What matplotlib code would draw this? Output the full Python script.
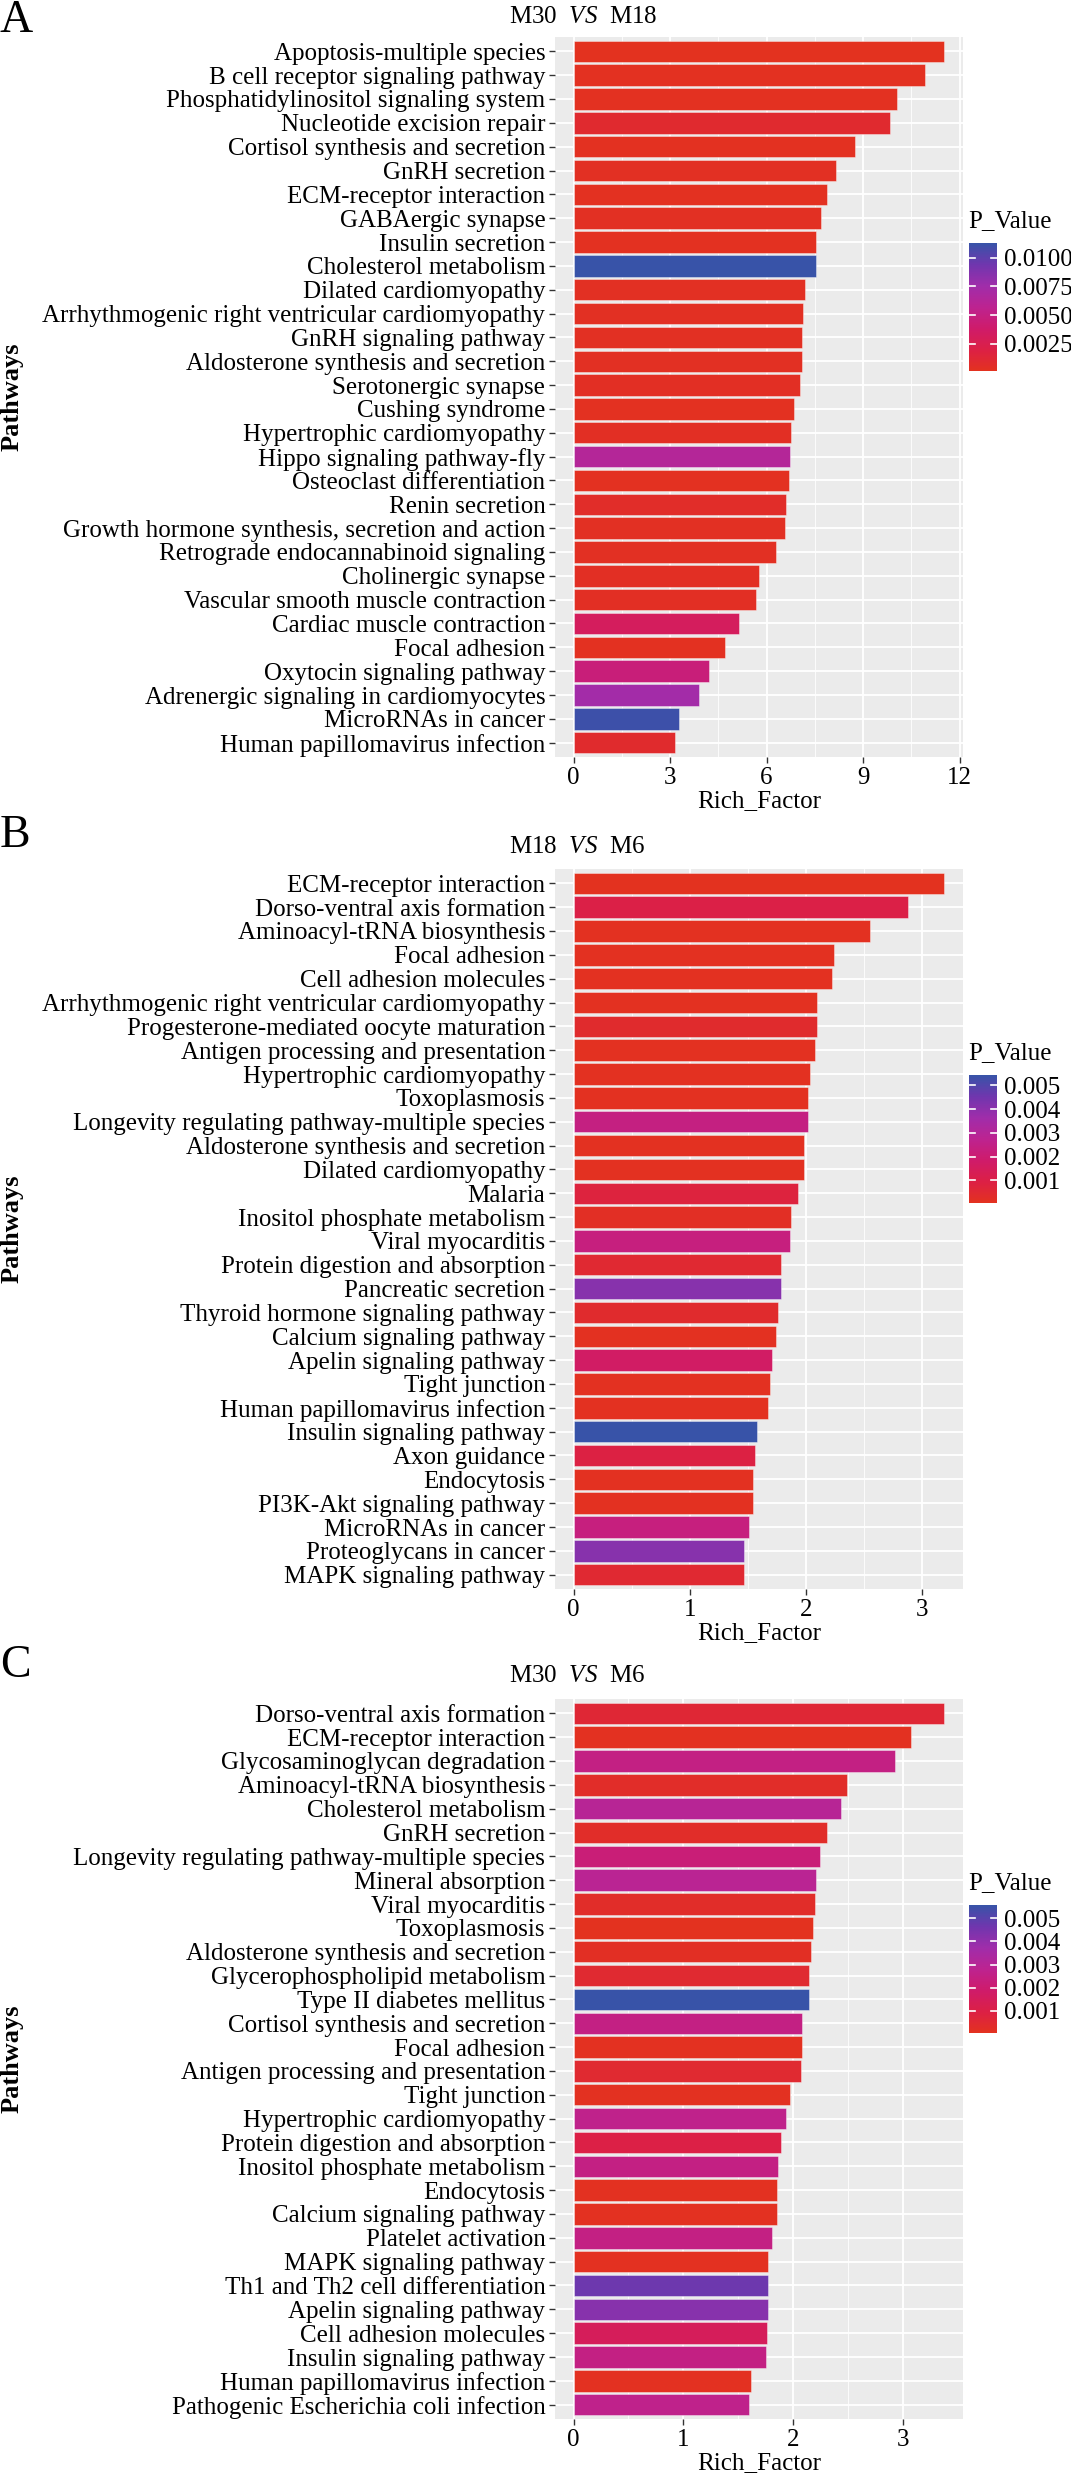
import matplotlib
import numpy as np

matplotlib.use("Agg")
import matplotlib.pyplot as plt
from matplotlib.cm import ScalarMappable
from matplotlib.colors import LinearSegmentedColormap, Normalize

plt.rcParams["font.family"] = ["Liberation Serif", "DejaVu Serif"]
plt.rcParams["mathtext.fontset"] = "custom"
plt.rcParams["mathtext.rm"] = "Liberation Serif"
plt.rcParams["mathtext.it"] = "Liberation Serif:italic"

# ---- Panel A: M30 VS M18 ----
pathways_a = [
    "Apoptosis-multiple species", "B cell receptor signaling pathway",
    "Phosphatidylinositol signaling system", "Nucleotide excision repair",
    "Cortisol synthesis and secretion", "GnRH secretion", "ECM-receptor interaction",
    "GABAergic synapse", "Insulin secretion", "Cholesterol metabolism",
    "Dilated cardiomyopathy", "Arrhythmogenic right ventricular cardiomyopathy",
    "GnRH signaling pathway", "Aldosterone synthesis and secretion",
    "Serotonergic synapse", "Cushing syndrome", "Hypertrophic cardiomyopathy",
    "Hippo signaling pathway-fly", "Osteoclast differentiation", "Renin secretion",
    "Growth hormone synthesis, secretion and action",
    "Retrograde endocannabinoid signaling", "Cholinergic synapse",
    "Vascular smooth muscle contraction", "Cardiac muscle contraction",
    "Focal adhesion", "Oxytocin signaling pathway",
    "Adrenergic signaling in cardiomyocytes", "MicroRNAs in cancer",
    "Human papillomavirus infection",
]
rich_a = [11.53, 10.93, 10.07, 9.84, 8.74, 8.15, 7.89, 7.70, 7.53, 7.53,
          7.18, 7.13, 7.09, 7.09, 7.03, 6.84, 6.75, 6.73, 6.69, 6.60,
          6.56, 6.29, 5.76, 5.67, 5.13, 4.70, 4.22, 3.90, 3.29, 3.16]
pvalue_a = [0.0001, 0.0002, 0.0002, 0.0009, 0.0002, 0.0003, 0.0002, 0.0003, 0.0002, 0.0113,
            0.0003, 0.0003, 0.0003, 0.0003, 0.0004, 0.0002, 0.0004, 0.0063, 0.0002, 0.0006,
            0.0003, 0.0003, 0.0004, 0.0004, 0.0032, 0.0002, 0.0046, 0.0074, 0.0111, 0.0008]

# ---- Panel B: M18 VS M6 ----
pathways_b = [
    "ECM-receptor interaction", "Dorso-ventral axis formation",
    "Aminoacyl-tRNA biosynthesis", "Focal adhesion", "Cell adhesion molecules",
    "Arrhythmogenic right ventricular cardiomyopathy",
    "Progesterone-mediated oocyte maturation", "Antigen processing and presentation",
    "Hypertrophic cardiomyopathy", "Toxoplasmosis",
    "Longevity regulating pathway-multiple species",
    "Aldosterone synthesis and secretion", "Dilated cardiomyopathy", "Malaria",
    "Inositol phosphate metabolism", "Viral myocarditis",
    "Protein digestion and absorption", "Pancreatic secretion",
    "Thyroid hormone signaling pathway", "Calcium signaling pathway",
    "Apelin signaling pathway", "Tight junction", "Human papillomavirus infection",
    "Insulin signaling pathway", "Axon guidance", "Endocytosis",
    "PI3K-Akt signaling pathway", "MicroRNAs in cancer", "Proteoglycans in cancer",
    "MAPK signaling pathway",
]
rich_b = [3.19, 2.88, 2.55, 2.24, 2.22, 2.09, 2.09, 2.08, 2.03, 2.02,
          2.02, 1.98, 1.98, 1.93, 1.87, 1.865, 1.78, 1.78, 1.76, 1.74,
          1.71, 1.69, 1.67, 1.58, 1.56, 1.54, 1.54, 1.51, 1.47, 1.47]
pvalue_b = [0.00005, 0.0010, 0.0001, 0.0001, 0.0001, 0.0001, 0.0004, 0.0001, 0.0001, 0.0001,
            0.0024, 0.0001, 0.0001, 0.0008, 0.0002, 0.0023, 0.0005, 0.0041, 0.0004, 0.0001,
            0.0017, 0.0001, 0.0001, 0.00543, 0.0009, 0.0001, 0.0001, 0.0023, 0.0041, 0.0005]

# ---- Panel C: M30 VS M6 ----
pathways_c = [
    "Dorso-ventral axis formation", "ECM-receptor interaction",
    "Glycosaminoglycan degradation", "Aminoacyl-tRNA biosynthesis",
    "Cholesterol metabolism", "GnRH secretion",
    "Longevity regulating pathway-multiple species", "Mineral absorption",
    "Viral myocarditis", "Toxoplasmosis", "Aldosterone synthesis and secretion",
    "Glycerophospholipid metabolism", "Type II diabetes mellitus",
    "Cortisol synthesis and secretion", "Focal adhesion",
    "Antigen processing and presentation", "Tight junction",
    "Hypertrophic cardiomyopathy", "Protein digestion and absorption",
    "Inositol phosphate metabolism", "Endocytosis", "Calcium signaling pathway",
    "Platelet activation", "MAPK signaling pathway",
    "Th1 and Th2 cell differentiation", "Apelin signaling pathway",
    "Cell adhesion molecules", "Insulin signaling pathway",
    "Human papillomavirus infection", "Pathogenic Escherichia coli infection",
]
rich_c = [3.38, 3.075, 2.93, 2.49, 2.44, 2.31, 2.25, 2.21, 2.20, 2.18,
          2.16, 2.15, 2.15, 2.08, 2.08, 2.07, 1.97, 1.94, 1.89, 1.86,
          1.855, 1.85, 1.81, 1.775, 1.77, 1.77, 1.76, 1.75, 1.62, 1.60]
pvalue_c = [0.0006, 0.0001, 0.0025, 0.0003, 0.0030, 0.0003, 0.0022, 0.0029, 0.0003, 0.00005,
            0.0002, 0.0005, 0.00557, 0.0025, 0.0001, 0.0005, 0.0001, 0.0027, 0.0010, 0.0025,
            0.0001, 0.0001, 0.0025, 0.0001, 0.0047, 0.0042, 0.0015, 0.0025, 0.0001, 0.0027]

xticks_a = [0, 3, 6, 9, 12]
xticks_bc = [0, 1, 2, 3]
cticks_a = [0.0025, 0.0050, 0.0075, 0.0100]
cticks_bc = [0.001, 0.002, 0.003, 0.004, 0.005]

W, H = 1071, 2480
FS = 18
CMAP = LinearSegmentedColormap.from_list(
    "pval", ["#E3321F", "#DC2045", "#CF1B6A", "#BD2390", "#A02DAA", "#7036AE", "#3853A8"])


def px_rect(left, top, right, bottom):
    return [left / W, 1 - bottom / H, (right - left) / W, (bottom - top) / H]


def draw_panel(fig, top, names, rich, pvals, xticks, cticks, cfmt, title, letter,
               letter_y, title_y):
    bottom = top + 720
    ax = fig.add_axes(px_rect(555, top, 963, bottom))
    n = len(names)
    y = np.arange(n)[::-1]
    norm = Normalize(min(pvals), max(pvals))
    ax.barh(y, rich, height=0.9, color=CMAP(norm(pvals)),
            edgecolor=(1, 1, 1, 0.45), linewidth=0.6, zorder=3)

    xmax = max(rich)
    ax.set_xlim(-0.05 * xmax, 1.05 * xmax)
    ax.set_ylim(-0.6, n - 0.4)
    ax.set_yticks(y)
    ax.set_yticklabels(names, fontsize=FS)
    ax.set_xticks(xticks)
    ax.set_xticklabels([str(t) for t in xticks], fontsize=FS)
    step = xticks[1] - xticks[0]
    ax.set_xticks([t + step / 2 for t in xticks[:-1]], minor=True)
    ax.tick_params(which="major", length=4, width=1, color="#333333", pad=3)
    ax.tick_params(which="minor", length=0)
    ax.set_facecolor("#EBEBEB")
    ax.grid(which="major", color="white", linewidth=1.3)
    ax.grid(which="minor", axis="x", color="white", linewidth=0.6)
    ax.set_axisbelow(True)
    for s in ax.spines.values():
        s.set_visible(False)
    ax.set_xlabel("Rich_Factor", fontsize=FS, labelpad=1)

    fig.text(0.0, 1 - letter_y / H, letter, fontsize=33, ha="left", va="center")
    fig.text(509 / W, 1 - title_y / H, title, fontsize=FS, ha="left", va="center")
    fig.text(12 / W, 1 - (top + 360) / H, "Pathways", fontsize=FS + 1, fontweight="bold",
             rotation=90, ha="center", va="center")

    # colour bar legend
    ctop = top + 206
    cax = fig.add_axes(px_rect(969, ctop, 997, ctop + 128))
    sm = ScalarMappable(norm=norm, cmap=CMAP)
    cb = fig.colorbar(sm, cax=cax, ticks=cticks)
    cb.outline.set_visible(False)
    cb.ax.set_yticklabels([cfmt % t for t in cticks], fontsize=FS)
    cb.ax.tick_params(length=0, pad=5)
    for t in cticks:
        cax.plot([0, 0.2], [t, t], color="white", linewidth=1.2)
        cax.plot([0.8, 1.0], [t, t], color="white", linewidth=1.2)
    fig.text(968 / W, 1 - (ctop - 22) / H, "P_Value", fontsize=FS, ha="left", va="center")
    return ax


fig = plt.figure(figsize=(W / 100, H / 100), dpi=100)
draw_panel(fig, 37, pathways_a, rich_a, pvalue_a, xticks_a, cticks_a, "%.4f",
           r"M30  $\mathit{VS}$  M18", "A", 21, 17)
draw_panel(fig, 869, pathways_b, rich_b, pvalue_b, xticks_bc, cticks_bc, "%.3f",
           r"M18  $\mathit{VS}$  M6", "B", 836, 847)
draw_panel(fig, 1699, pathways_c, rich_c, pvalue_c, xticks_bc, cticks_bc, "%.3f",
           r"M30  $\mathit{VS}$  M6", "C", 1666, 1676)
fig.savefig("out.png", dpi=100)
